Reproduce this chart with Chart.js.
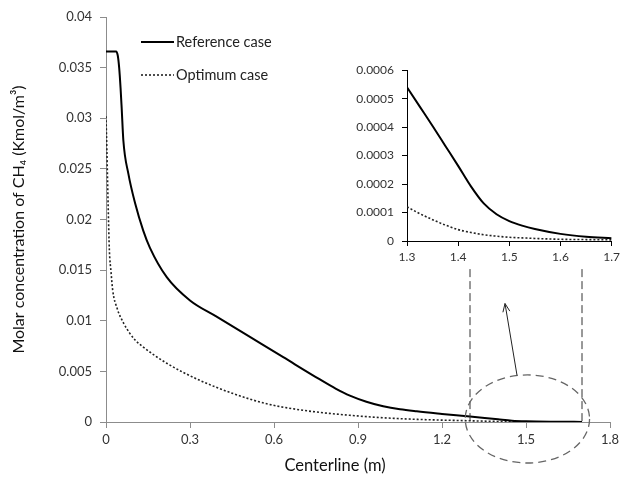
<!DOCTYPE html>
<html>
<head>
<meta charset="utf-8">
<script src="https://cdn.jsdelivr.net/npm/chart.js@4/dist/chart.umd.min.js"></script>
<style>
body { margin: 0; background: #fff; }
#wrap { position: relative; width: 624px; height: 485px; }
#main { position: absolute; left: 0; top: 0; }
#inset { position: absolute; left: 340px; top: 55px; }
</style>
</head>
<body>
<div id="wrap">
  <canvas id="main" width="624" height="485"></canvas>
  <canvas id="inset" width="284" height="215"></canvas>
</div>
<script>
// main plot - reference case
var refX = [0, 0.036, 0.042, 0.047, 0.052, 0.056, 0.062, 0.08, 0.104, 0.133, 0.157, 0.217, 0.3, 0.395, 0.514, 0.633, 0.764, 0.82, 0.871, 0.93, 0.99, 1.05, 1.11, 1.2, 1.3, 1.4, 1.45, 1.5, 1.6, 1.7];
var refY = [0.0366, 0.0366, 0.0362, 0.035, 0.033, 0.031, 0.0278, 0.0245, 0.0216, 0.0189, 0.0172, 0.0143, 0.012, 0.0104, 0.0084, 0.0064, 0.0042, 0.0033, 0.0026, 0.002, 0.00155, 0.00125, 0.00105, 0.0008, 0.00054, 0.000264, 0.000132, 0.00007, 0.000025, 0.00001];
// main plot - optimum case
var optX = [0, 0.003, 0.008, 0.012, 0.018, 0.024, 0.04, 0.064, 0.084, 0.104, 0.133, 0.217, 0.336, 0.455, 0.574, 0.693, 0.871, 1.05, 1.3, 1.5, 1.7];
var optY = [0.0302, 0.027, 0.021, 0.017, 0.0148, 0.013, 0.0112, 0.0097, 0.0088, 0.0081, 0.0074, 0.0058, 0.0041, 0.0028, 0.0018, 0.0012, 0.00066, 0.00033, 0.00012, 0.000013, 0.000004];
// zoomed inset (1.3 - 1.7)
var insetX = [1.3, 1.325, 1.35, 1.375, 1.4, 1.425, 1.45, 1.475, 1.5, 1.525, 1.55, 1.6, 1.65, 1.7];
var insetRef = [0.00054, 0.000472, 0.000404, 0.000334, 0.000264, 0.000192, 0.000132, 0.000094, 0.00007, 0.000054, 0.000042, 0.000025, 0.000015, 0.00001];
var insetOpt = [0.00012, 0.000096, 0.000075, 0.000056, 0.00004, 0.00003, 0.000022, 0.000017, 0.000013, 0.000011, 0.000009, 0.000006, 0.000005, 0.000004];

var seriesNames = ["Reference case", "Optimum case"];
var xTitle = "Centerline (m)";
var yTitle = "Molar concentration of CH\u2084 (Kmol/m\u00b3)";

var FONT = "Lato, 'Open Sans', sans-serif";
var AXIS = "#8c8c8c";

function pts(xs, ys) {
  return xs.map(function (x, i) { return { x: x, y: ys[i] }; });
}

function fmt(v, d) {
  if (Math.abs(v) < 1e-12) return "0";
  return String(+v.toFixed(d));
}

var lineStyles = [
  { borderColor: "#000", borderWidth: 2, borderDash: [] },
  { borderColor: "#222", borderWidth: 1.6, borderDash: [2, 2] }
];

// legend + x title drawn by hand (the original sits off-centre)
var legendPlugin = {
  id: "innerLegend",
  afterDraw: function (c) {
    var ctx = c.ctx;
    ctx.save();
    c.data.datasets.forEach(function (ds, i) {
      var y = 42 + i * 33;
      ctx.strokeStyle = ds.borderColor;
      ctx.lineWidth = ds.borderWidth;
      ctx.setLineDash(ds.borderDash);
      ctx.beginPath();
      ctx.moveTo(141, y);
      ctx.lineTo(174, y);
      ctx.stroke();
      ctx.setLineDash([]);
      ctx.fillStyle = "#222";
      ctx.font = "14.5px " + FONT;
      ctx.textBaseline = "middle";
      ctx.fillText(ds.label, 176, y);
    });
    ctx.fillStyle = "#111";
    ctx.font = "16.5px " + FONT;
    ctx.textAlign = "center";
    ctx.textBaseline = "middle";
    ctx.fillText(xTitle, 335, 466);
    ctx.restore();
  }
};

// dashed zoom window, ellipse and arrow
var zoomPlugin = {
  id: "zoomMarks",
  afterDatasetsDraw: function (c) {
    var ctx = c.ctx, xs = c.scales.x, ys = c.scales.y;
    ctx.save();
    ctx.strokeStyle = "#333";
    ctx.lineWidth = 1;
    ctx.setLineDash([8, 4]);
    [1.3, 1.7].forEach(function (v) {
      ctx.beginPath();
      ctx.moveTo(xs.getPixelForValue(v), ys.getPixelForValue(0.0151));
      ctx.lineTo(xs.getPixelForValue(v), ys.getPixelForValue(0));
      ctx.stroke();
    });
    // ellipse around 1.3 - 1.7
    var cx = xs.getPixelForValue(1.505), cy = ys.getPixelForValue(0.0003);
    var rx = xs.getPixelForValue(1.505 + 0.222) - cx;
    var ry = cy - ys.getPixelForValue(0.0003 + 0.00435);
    ctx.strokeStyle = "#666";
    ctx.lineWidth = 1.3;
    ctx.setLineDash([8, 5]);
    ctx.beginPath();
    ctx.ellipse(cx, cy, rx, ry, 0, 0, Math.PI * 2);
    ctx.stroke();
    // arrow
    ctx.setLineDash([]);
    ctx.strokeStyle = "#222";
    ctx.lineWidth = 1;
    var x0 = xs.getPixelForValue(1.468), y0 = ys.getPixelForValue(0.0046);
    var x1 = xs.getPixelForValue(1.425), y1 = ys.getPixelForValue(0.0117);
    ctx.beginPath();
    ctx.moveTo(x0, y0);
    ctx.lineTo(x1, y1);
    var a = Math.atan2(y1 - y0, x1 - x0);
    ctx.moveTo(x1 - 9 * Math.cos(a - 0.4), y1 - 9 * Math.sin(a - 0.4));
    ctx.lineTo(x1, y1);
    ctx.lineTo(x1 - 9 * Math.cos(a + 0.4), y1 - 9 * Math.sin(a + 0.4));
    ctx.stroke();
    ctx.restore();
  }
};

var mainChart = new Chart(document.getElementById("main"), {
  type: "line",
  data: {
    datasets: [
      Object.assign({ label: seriesNames[0], data: pts(refX, refY) }, lineStyles[0]),
      Object.assign({ label: seriesNames[1], data: pts(optX, optY) }, lineStyles[1])
    ]
  },
  options: {
    responsive: false,
    animation: false,
    devicePixelRatio: 1,
    layout: { padding: { top: 17, right: 14, left: 0, bottom: 0 } },
    elements: { point: { radius: 0 }, line: { cubicInterpolationMode: "monotone" } },
    plugins: { legend: { display: false }, tooltip: { enabled: false } },
    scales: {
      x: {
        type: "linear",
        min: 0,
        max: 1.8,
        afterFit: function (s) { s.height = 63; },
        ticks: {
          stepSize: 0.3,
          padding: 4,
          color: "#333",
          font: { family: FONT, size: 13 },
          maxRotation: 0,
          callback: function (v) { return Math.abs(v) < 1e-9 ? "0" : v.toFixed(1); }
        },
        grid: { drawOnChartArea: false, tickLength: 6, color: AXIS },
        border: { color: AXIS, width: 1 }
      },
      y: {
        min: 0,
        max: 0.04,
        afterFit: function (s) { s.width = 106; },
        ticks: {
          stepSize: 0.005,
          padding: 8,
          color: "#333",
          font: { family: FONT, size: 13 },
          callback: function (v) { return fmt(v, 4); }
        },
        grid: { drawOnChartArea: false, tickLength: 6, color: AXIS },
        border: { color: AXIS, width: 1 },
        title: {
          display: true,
          text: yTitle,
          color: "#111",
          font: { family: FONT, size: 16 },
          padding: { top: 9, bottom: 0 }
        }
      }
    }
  },
  plugins: [legendPlugin, zoomPlugin]
});

var insetChart = new Chart(document.getElementById("inset"), {
  type: "line",
  data: {
    datasets: [
      Object.assign({ label: seriesNames[0], data: pts(insetX, insetRef) }, lineStyles[0]),
      Object.assign({ label: seriesNames[1], data: pts(insetX, insetOpt) }, lineStyles[1])
    ]
  },
  options: {
    responsive: false,
    animation: false,
    devicePixelRatio: 1,
    layout: { padding: { top: 12, right: 9, left: 0, bottom: 0 } },
    elements: { point: { radius: 0 }, line: { cubicInterpolationMode: "monotone" } },
    plugins: { legend: { display: false }, tooltip: { enabled: false } },
    scales: {
      x: {
        type: "linear",
        min: 1.3,
        max: 1.7,
        afterFit: function (s) { s.height = 29; },
        ticks: {
          stepSize: 0.1,
          padding: 4,
          color: "#333",
          font: { family: FONT, size: 12 },
          maxRotation: 0,
          callback: function (v) { return v.toFixed(1); }
        },
        grid: { drawOnChartArea: false, tickLength: 5, color: "#000" },
        border: { color: "#000", width: 1 }
      },
      y: {
        min: 0,
        max: 0.0006,
        afterFit: function (s) { s.width = 67; },
        ticks: {
          stepSize: 0.0001,
          padding: 8,
          color: "#333",
          font: { family: FONT, size: 12 },
          callback: function (v) { return fmt(v, 5); }
        },
        grid: { drawOnChartArea: false, tickLength: 5, color: "#000" },
        border: { color: "#000", width: 1 }
      }
    }
  }
});
</script>
</body>
</html>
